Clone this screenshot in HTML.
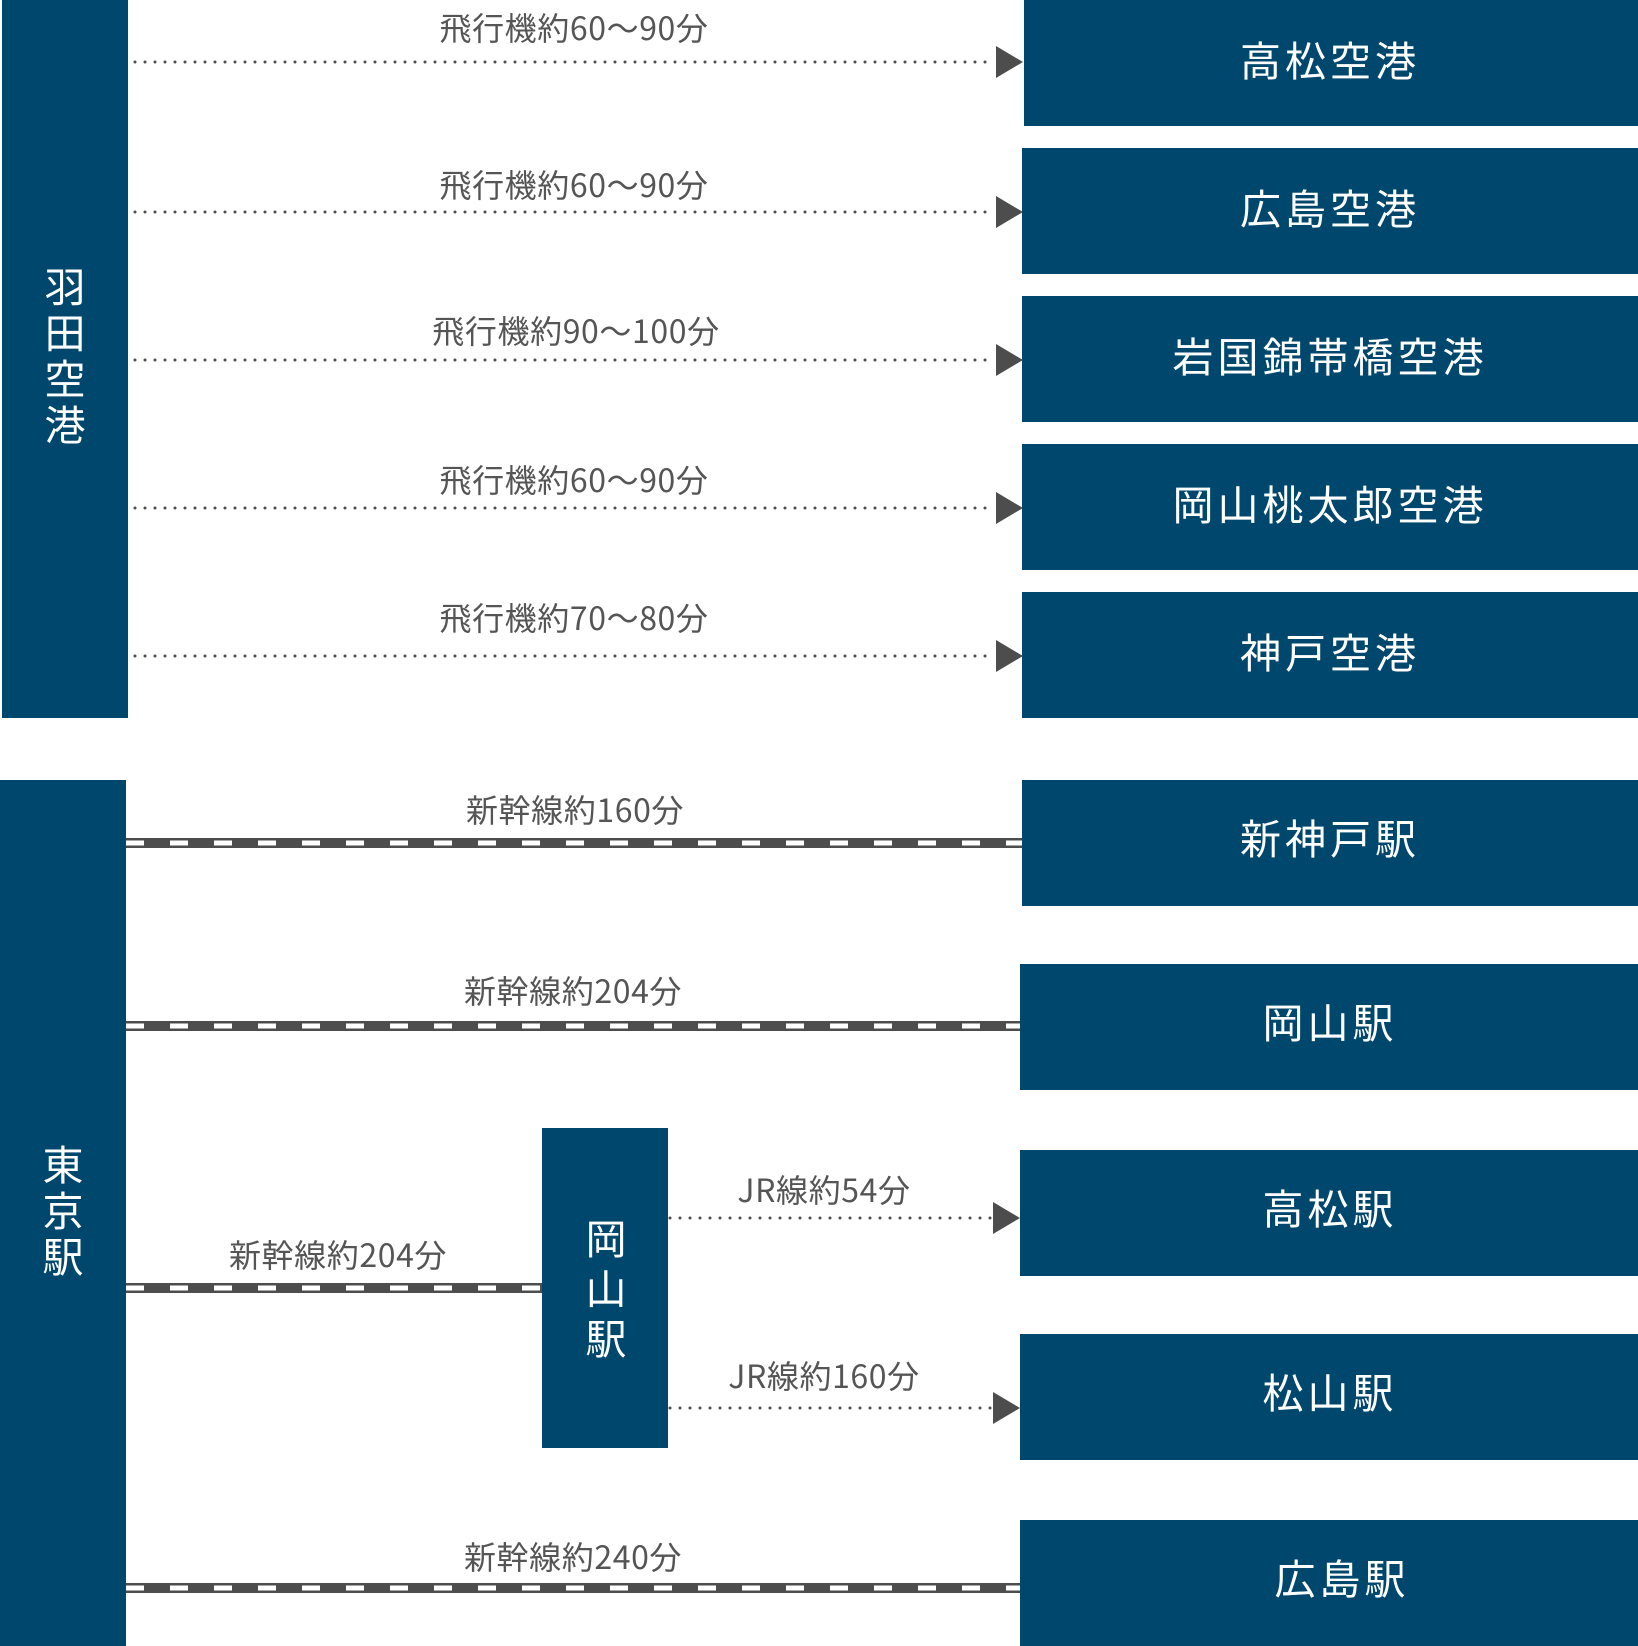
<!DOCTYPE html>
<html><head><meta charset="utf-8"><style>
html,body{margin:0;padding:0;background:#fff;}
svg{display:block;}
text{font-family:"Liberation Sans","Noto Sans CJK JP",sans-serif;}
.l{font-family:"Noto Sans CJK JP",sans-serif;font-size:32px;fill:#555;text-anchor:middle;letter-spacing:0.6px;font-weight:400;}
.b{font-family:"Noto Sans CJK JP",sans-serif;font-size:41px;fill:#fff;text-anchor:middle;letter-spacing:4px;font-weight:400;}
.v{font-family:"Noto Sans CJK JP",sans-serif;font-size:41px;fill:#fff;text-anchor:middle;}
.dot{stroke:#4d4d4d;stroke-width:3;stroke-linecap:round;stroke-dasharray:0 10;fill:none;}
</style></head><body>
<svg width="1638" height="1646" viewBox="0 0 1638 1646" xmlns="http://www.w3.org/2000/svg">
<!-- Haneda -->
<rect x="2" y="0" width="126" height="718" fill="#00476d"/>
<text class="v" x="65" y="302">羽</text>
<text class="v" x="65" y="348">田</text>
<text class="v" x="65" y="394">空</text>
<text class="v" x="65" y="440">港</text>

<g fill="#00476d">
<rect x="1024" y="0" width="614" height="126"/>
<rect x="1022" y="148" width="616" height="126"/>
<rect x="1022" y="296" width="616" height="126"/>
<rect x="1022" y="444" width="616" height="126"/>
<rect x="1022" y="592" width="616" height="126"/>
</g>
<text class="b" x="1330" y="76">高松空港</text>
<text class="b" x="1330" y="224">広島空港</text>
<text class="b" x="1330" y="372">岩国錦帯橋空港</text>
<text class="b" x="1330" y="520">岡山桃太郎空港</text>
<text class="b" x="1330" y="668">神戸空港</text>

<g>
<path class="dot" d="M135 62H995M135 212H995M135 360H995M135 508H995M135 656H995"/>
<g fill="#4d4d4d">
<polygon points="996,46 1023,62 996,78"/>
<polygon points="996,196 1023,212 996,228"/>
<polygon points="996,344 1023,360 996,376"/>
<polygon points="996,492 1023,508 996,524"/>
<polygon points="996,640 1023,656 996,672"/>
</g>
</g>
<text class="l" x="574" y="40">飛行機約60～90分</text>
<text class="l" x="574" y="197">飛行機約60～90分</text>
<text class="l" x="576" y="343">飛行機約90～100分</text>
<text class="l" x="574" y="492">飛行機約60～90分</text>
<text class="l" x="574" y="630">飛行機約70～80分</text>

<!-- Tokyo -->
<rect x="0" y="780" width="126" height="866" fill="#00476d"/>
<text class="v" x="63" y="1180">東</text>
<text class="v" x="63" y="1226">京</text>
<text class="v" x="63" y="1272">駅</text>

<g fill="#00476d">
<rect x="1022" y="780" width="616" height="126"/>
<rect x="1020" y="964" width="618" height="126"/>
<rect x="1020" y="1150" width="618" height="126"/>
<rect x="1020" y="1334" width="618" height="126"/>
<rect x="1020" y="1520" width="618" height="126"/>
<rect x="542" y="1128" width="126" height="320"/>
</g>
<text class="b" x="1330" y="854">新神戸駅</text>
<text class="b" x="1330" y="1038">岡山駅</text>
<text class="b" x="1330" y="1224">高松駅</text>
<text class="b" x="1330" y="1408">松山駅</text>
<text class="b" x="1342" y="1594">広島駅</text>
<text class="v" x="606" y="1254">岡</text>
<text class="v" x="606" y="1304">山</text>
<text class="v" x="606" y="1354">駅</text>

<!-- rails -->
<g>
<rect x="126" y="838" width="896" height="10" fill="#4d4d4d"/>
<line x1="126" y1="843" x2="1022" y2="843" stroke="#fff" stroke-width="5" stroke-dasharray="18 26"/>
<rect x="126" y="1021" width="894" height="10" fill="#4d4d4d"/>
<line x1="126" y1="1026" x2="1020" y2="1026" stroke="#fff" stroke-width="5" stroke-dasharray="18 26"/>
<rect x="126" y="1283" width="416" height="10" fill="#4d4d4d"/>
<line x1="126" y1="1288" x2="542" y2="1288" stroke="#fff" stroke-width="5" stroke-dasharray="18 26"/>
<rect x="126" y="1583" width="894" height="10" fill="#4d4d4d"/>
<line x1="126" y1="1588" x2="1020" y2="1588" stroke="#fff" stroke-width="5" stroke-dasharray="18 26"/>
</g>
<text class="l" x="575" y="822">新幹線約160分</text>
<text class="l" x="573" y="1003">新幹線約204分</text>
<text class="l" x="338" y="1267">新幹線約204分</text>
<text class="l" x="573" y="1569">新幹線約240分</text>

<path class="dot" d="M670 1218H992M670 1408H992"/>
<g fill="#4d4d4d">
<polygon points="993,1202 1020,1218 993,1234"/>
<polygon points="993,1392 1020,1408 993,1424"/>
</g>
<text class="l" x="824" y="1202">JR線約54分</text>
<text class="l" x="824" y="1388">JR線約160分</text>
</svg>
</body></html>
